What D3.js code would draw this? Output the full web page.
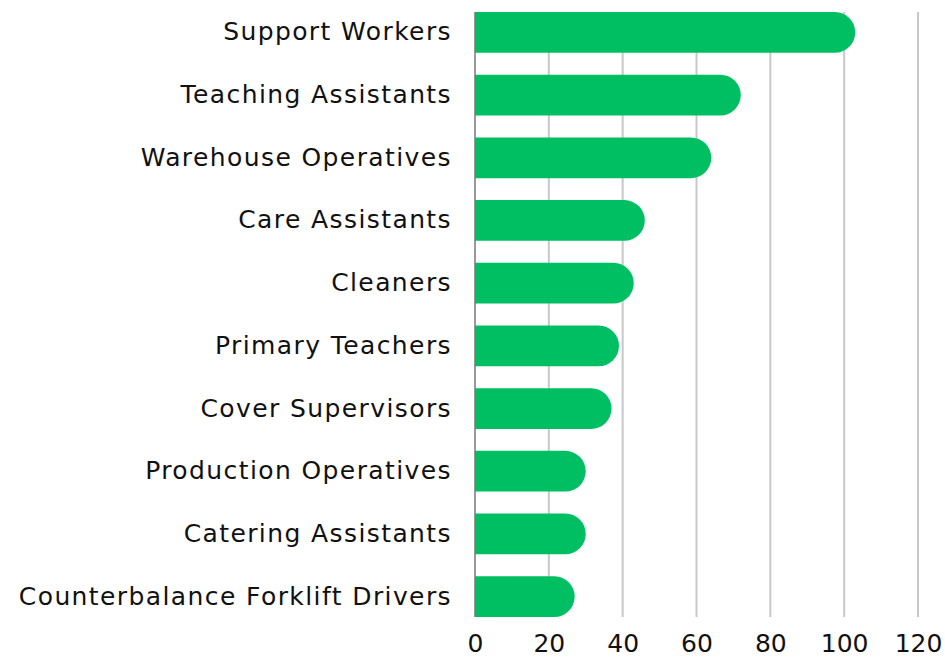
<!DOCTYPE html>
<html lang="en">
<head>
  <meta charset="utf-8">
  <title>Bar chart</title>
  <script src="https://d3js.org/d3.v7.min.js"></script>
  <style>
    body { margin: 0; background: #fff; }
    text { font-family: "DejaVu Sans", sans-serif; fill: #111; }
  </style>
</head>
<body>
  <script>
    var categories = ["Support Workers", "Teaching Assistants", "Warehouse Operatives",
      "Care Assistants", "Cleaners", "Primary Teachers", "Cover Supervisors",
      "Production Operatives", "Catering Assistants", "Counterbalance Forklift Drivers"];
    var values = [103, 72, 64, 46, 43, 39, 37, 30, 30, 27];
    var tickValues = [0, 20, 40, 60, 80, 100, 120];

    var w = 945, h = 659;
    var margin = {top: 12, right: 27, bottom: 42, left: 475};
    var innerW = w - margin.left - margin.right,
      innerH = h - margin.top - margin.bottom;

    var x = d3.scaleLinear().domain([0, 120]).range([0, innerW]);
    var y = d3.scaleBand().domain(categories).range([0, innerH])
      .paddingInner(0.35).paddingOuter(0);

    var svg = d3.select('body').append('svg')
        .attr('width', w)
        .attr('height', h)
      .append('g')
        .attr('transform', 'translate(' + [margin.left, margin.top] + ')');

    // gridlines
    svg.selectAll('.grid')
      .data(tickValues.slice(1))
      .enter().append('line')
      .attr('x1', d => x(d)).attr('x2', d => x(d))
      .attr('y1', 0).attr('y2', innerH)
      .attr('stroke', '#c8c8c8').attr('stroke-width', 2);

    // bars: square left, rounded right end
    var r = y.bandwidth() / 2;
    svg.selectAll('.bar')
      .data(values)
      .enter().append('path')
      .attr('fill', '#00bf63')
      .attr('d', function(d, i) {
        var x1 = x(d), y0 = y(categories[i]), bh = y.bandwidth();
        var rr = Math.min(r, x1);
        return 'M0,' + y0 + 'H' + (x1 - rr) +
          'A' + rr + ',' + r + ' 0 0 1 ' + (x1 - rr) + ',' + (y0 + bh) +
          'H0Z';
      });

    // zero axis line
    svg.append('line')
      .attr('x1', 0).attr('x2', 0).attr('y1', 0).attr('y2', innerH)
      .attr('stroke', '#777').attr('stroke-width', 1.5);

    var xAxis = d3.axisBottom(x).tickValues(tickValues).tickSize(0).tickPadding(17);
    var gx = svg.append('g')
      .attr('transform', 'translate(0,' + innerH + ')')
      .call(xAxis);
    gx.select('.domain').remove();
    gx.selectAll('text').style('font-size', '25px').attr('fill', '#111');

    var yAxis = d3.axisLeft(y).tickSize(0).tickPadding(23);
    var gy = svg.append('g').call(yAxis);
    gy.select('.domain').remove();
    gy.selectAll('text').style('font-size', '25px').attr('fill', '#111')
      .style('letter-spacing', '1.4px')
      .attr('dy', '0.32em');
  </script>
</body>
</html>
